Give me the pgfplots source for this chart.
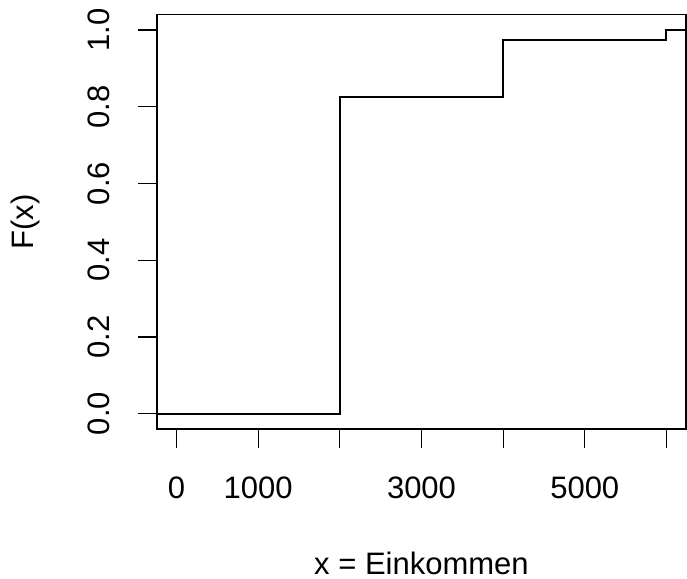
\documentclass[border=0pt]{standalone}
\usepackage{pgfplots}
\pgfplotsset{compat=1.18}
\usepackage{fontspec}
\setmainfont{Liberation Sans}
\newcommand{\rfont}{\fontsize{31bp}{37bp}\selectfont}
\begin{document}
\begin{tikzpicture}
\path[use as bounding box] (-157bp,-150bp) rectangle (530bp,429bp);
\begin{axis}[
    at={(0,0)}, anchor=south west,
    scale only axis,
    width=529bp, height=414.3bp,
    xmin=-240, xmax=6240,
    ymin=-0.04, ymax=1.04,
    xtick={0,1000,2000,3000,4000,5000,6000},
    xticklabels={0,1000,,3000,,5000,},
    ytick={0,0.2,0.4,0.6,0.8,1},
    yticklabels={0.0,0.2,0.4,0.6,0.8,1.0},
    xtick pos=bottom, ytick pos=left,
    tick align=outside,
    major tick length=19bp,
    axis line style={line width=1.2bp},
    every tick/.style={black, line width=1.2bp},
    xticklabel style={font=\rfont, anchor=base, inner sep=0pt, yshift=-50.3bp},
    yticklabel style={font=\rfont, rotate=90, anchor=base, inner sep=0pt, yshift=28.6bp},
    xlabel={x = Einkommen},
    ylabel={F(x)},
    xlabel style={font=\rfont, at={(rel axis cs:0.5,0)}, anchor=base, inner sep=0pt, yshift=-145.3bp},
    ylabel style={font=\rfont, at={(rel axis cs:0,0.5)}, anchor=base, inner sep=0pt, yshift=123.7bp},
]
\addplot[const plot, black, line width=2bp] coordinates {
    (-240,0) (2000,0.825) (4000,0.975) (6000,1) (6240,1)
};
\end{axis}
\end{tikzpicture}
\end{document}
